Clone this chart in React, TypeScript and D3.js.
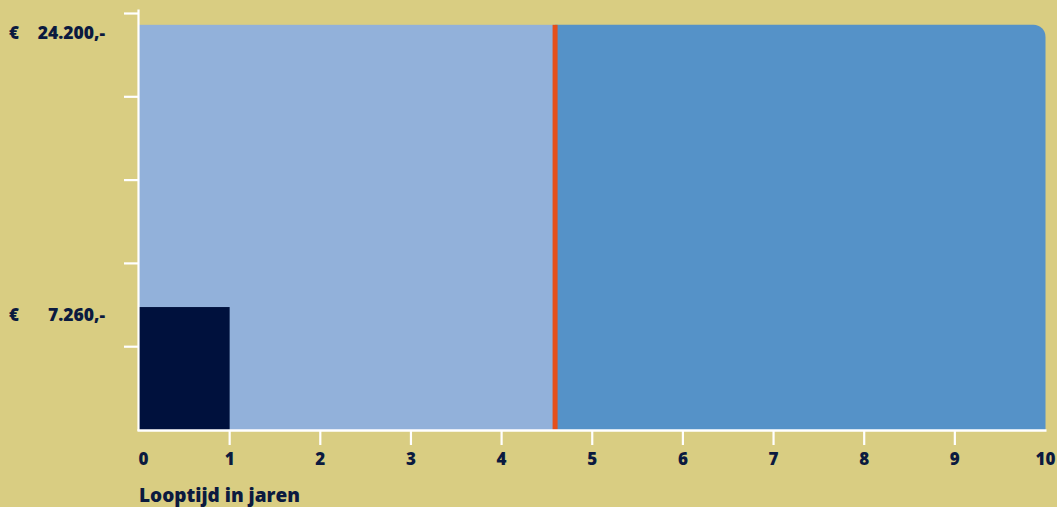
import React from "react";
import * as d3 from "d3";

const W = 1057;
const H = 507;

// Data
const xTicks = [0, 1, 2, 3, 4, 5, 6, 7, 8, 9, 10];
const yTicks = [5000, 10000, 15000, 20000, 25000];
const totalAmount = 24200; // € 24.200,-
const firstYearAmount = 7260; // € 7.260,-
const splitYear = 4.59; // orange marker
const firstYearEnd = 1;
const maxYear = 10;
const yLabels = [
  { value: 24200, text: "24.200,-" },
  { value: 7260, text: "7.260,-" },
];

const BG = "#d9cd82";
const LIGHT = "#92b1da";
const DARK = "#5592c8";
const NAVY = "#00113d";
const ORANGE = "#e5501b";
const TEXT = "#0b1a3f";
const FONT = "'Open Sans', 'Noto Sans', sans-serif";

export default function App() {
  const x = d3.scaleLinear().domain([0, maxYear]).range([139, 1045.5]);
  const y = d3.scaleLinear().domain([0, 25000]).range([430, 13.5]);

  const x0 = x(0);
  const yBase = y(0);
  const yTop = y(totalAmount) - 2;
  const r = 12;
  const xs = x(splitYear);
  const xe = x(maxYear);

  const darkPath = d3.path();
  darkPath.moveTo(xs, yBase);
  darkPath.lineTo(xs, yTop);
  darkPath.lineTo(xe - r, yTop);
  darkPath.arcTo(xe, yTop, xe, yTop + r, r);
  darkPath.lineTo(xe, yBase);
  darkPath.closePath();

  const barTop = y(firstYearAmount) - 2;

  return (
    <div style={{ position: "fixed", left: 0, top: 0, width: W, height: H }}>
      <svg width={W} height={H} style={{ display: "block", fontFamily: FONT }}>
        <rect x={0} y={0} width={W} height={H} fill={BG} />
        {/* light area */}
        <rect x={x0} y={yTop} width={xs - x0} height={yBase - yTop} fill={LIGHT} />
        {/* dark area */}
        <path d={darkPath.toString()} fill={DARK} />
        {/* orange marker */}
        <rect x={xs - 2.5} y={yTop} width={5} height={yBase - yTop} fill={ORANGE} />
        {/* first-year bar */}
        <rect
          x={x0}
          y={barTop}
          width={x(firstYearEnd) - x0}
          height={yBase - barTop}
          fill={NAVY}
        />
        {/* axes */}
        <line x1={x0 - 0.5} y1={9.5} x2={x0 - 0.5} y2={yBase + 1} stroke="#fff" strokeWidth={2.2} />
        <line x1={x0 - 1.5} y1={yBase + 0.5} x2={xe + 1} y2={yBase + 0.5} stroke="#fff" strokeWidth={2.5} />
        {yTicks.map((t) => (
          <line key={t} x1={124} x2={x0} y1={y(t)} y2={y(t)} stroke="#fff" strokeWidth={2.2} />
        ))}
        {xTicks
          .filter((t) => t > 0 && t < maxYear)
          .map((t) => (
            <line key={t} x1={x(t)} x2={x(t)} y1={yBase} y2={yBase + 15} stroke="#fff" strokeWidth={2.2} />
          ))}
        {xTicks.map((t) => (
          <text
            key={t}
            x={t === 0 ? x(t) + 4.5 : x(t)}
            y={465}
            textAnchor="middle"
            fontSize={17}
            fontWeight={800}
            fill={TEXT}
          >
            {t}
          </text>
        ))}
        {yLabels.map((l) => (
          <g key={l.text}>
            <text x={9} y={y(l.value) + 12} fontSize={17} fontWeight={800} fill={TEXT}>
              €
            </text>
            <text x={105} y={y(l.value) + 12} textAnchor="end" fontSize={17.5} fontWeight={800} fill={TEXT}>
              {l.text}
            </text>
          </g>
        ))}
        <text x={x0} y={502} fontSize={19} fontWeight={800} fill={TEXT}>
          Looptijd in jaren
        </text>
      </svg>
    </div>
  );
}
